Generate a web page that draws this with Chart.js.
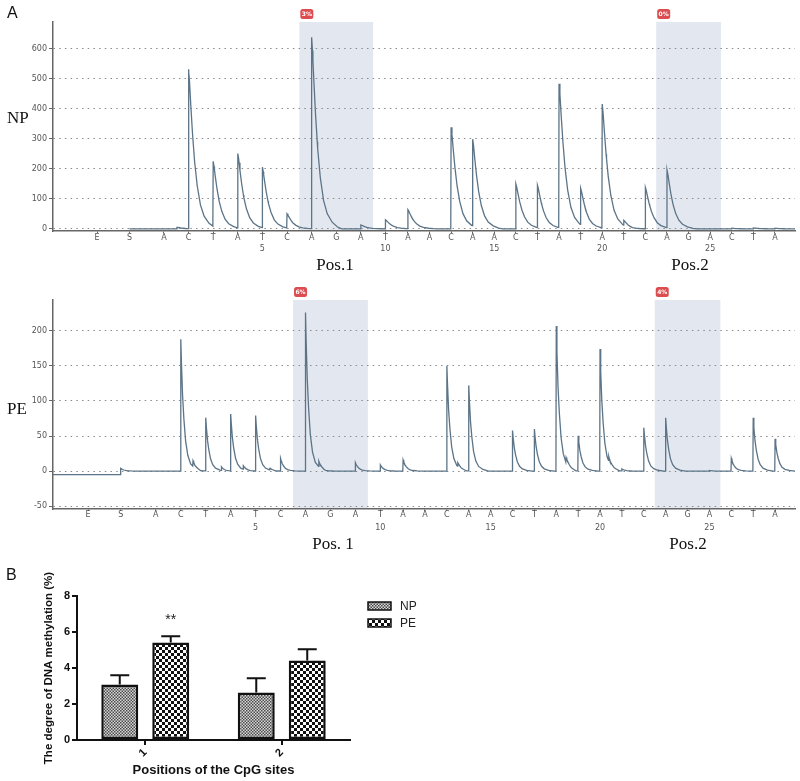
<!DOCTYPE html>
<html><head><meta charset="utf-8">
<script src="https://cdn.jsdelivr.net/npm/chart.js@4.4.1/dist/chart.umd.min.js"></script>
<style>
html,body{margin:0;padding:0;background:#fff;}
body{width:800px;height:781px;position:relative;overflow:hidden;font-family:"Liberation Sans",Arial,sans-serif;}
.box{position:absolute;}
.lbl{position:absolute;white-space:nowrap;line-height:1;color:#111;}
.panel{font-size:16px;}
.serif{font-family:"Liberation Serif","Times New Roman",serif;font-size:17px;}
.ctr{transform:translateX(-50%);}
</style></head><body>
<div class="box" style="left:0;top:0;width:800px;height:256px"><canvas id="cNP"></canvas></div>
<div class="box" style="left:0;top:280px;width:800px;height:256px"><canvas id="cPE"></canvas></div>
<div class="box" style="left:0;top:560px;width:480px;height:221px"><canvas id="cBar"></canvas></div>

<div class="lbl panel" style="left:7px;top:5px;">A</div>
<div class="lbl panel" style="left:6px;top:567px;">B</div>
<div class="lbl serif" style="left:7px;top:109px;">NP</div>
<div class="lbl serif" style="left:7px;top:400px;">PE</div>
<div class="lbl serif ctr" style="left:335px;top:256px;">Pos.1</div>
<div class="lbl serif ctr" style="left:690px;top:256px;">Pos.2</div>
<div class="lbl serif ctr" style="left:333px;top:535px;">Pos. 1</div>
<div class="lbl serif ctr" style="left:688px;top:535px;">Pos.2</div>

<script>
// ---------- Pyrogram data ----------
const DISP_LABELS  = ['E','S','A','C','T','A','T','C','A','G','A','T','A','A','C','A','A','C','T','A','T','A','T','C','A','G','A','C','T','A'];
const DISP_NUMBERS = ['','','','','','','5','','','','','10','','','','','15','','','','','20','','','','','25','','',''];
const DISP_TIME    = [1.6,3.1,4.7,5.84,6.98,8.12,9.26,10.4,11.54,12.68,13.82,14.96,16,17,18,19,20,21,22,23,24,25,26,27,28,29,30,31,32,33];

const NP_Y_TICKS = [0,100,200,300,400,500,600];
const PE_Y_TICKS = [-50,0,50,100,150,200];

const NP_PEAKS = [0,0,0,532,217,248,202,47,638,0,13,30,63,0,339,289,0,150,141,480,121,413,16,138,193,0,0,2,3,2];
const PE_PEAKS = [0,4,0,188,76,81,79,18,226,0,12,9,16,0,150,122,0,58,60,207,50,174,3,62,76,0,1,18,76,46];
const NP_MINOR = [[5.3,5]];
const PE_MINOR = [[6.4,8],[7.7,5],[8.7,5],[9.9,3],[12.15,8],[18.5,5],[23.45,8],[25.4,7]];
const PE_PRE_BASELINE = -5;

// peak shape: [time after dispensation, fraction of peak height]
const NP_SHAPE = [[-0.015,0],[0,1],[0.04,0.93],[0.1,0.78],[0.18,0.6],[0.28,0.42],[0.4,0.27],[0.55,0.15],[0.72,0.08],[0.95,0.035],[1.2,0.01],[1.4,0]];
const PE_SHAPE = [[-0.015,0],[0,1],[0.03,0.82],[0.08,0.58],[0.14,0.4],[0.22,0.23],[0.32,0.12],[0.45,0.055],[0.65,0.02],[0.9,0]];

const SHADE_SITES = [[8,10],[24,26]];   // dispensation indexes covered by CpG Pos.1 / Pos.2
const NP_BADGES = ['3%','0%'];
const PE_BADGES = ['6%','4%'];

// ---------- Bar data ----------
const CPG_POSITIONS = ['1','2'];
const NP_METH = [3.08, 2.64];
const NP_SEM  = [0.52, 0.79];
const PE_METH = [5.42, 4.41];
const PE_SEM  = [0.35, 0.63];
const PE_SIG  = ['**',''];

function shapeAt(shape, dt){
  if (dt <= shape[0][0] || dt >= shape[shape.length-1][0]) return 0;
  for (let i=1;i<shape.length;i++){
    if (dt <= shape[i][0]){
      const [a,fa]=shape[i-1],[b,fb]=shape[i];
      return fa + (fb-fa)*(dt-a)/(b-a);
    }
  }
  return 0;
}
function buildTrace(peaks, minor, shape, tStart, tEnd, preBase){
  const all = DISP_TIME.map((t,i)=>[t,peaks[i]]).filter(p=>p[1]!==0).concat(minor);
  const ts = new Set([tStart,tEnd]);
  all.forEach(([tp])=>shape.forEach(([dt])=>{const t=+(tp+dt).toFixed(4); if(t>tStart&&t<tEnd) ts.add(t);}));
  const tS = DISP_TIME[1];
  if (preBase !== 0){ ts.add(+(tS-0.016).toFixed(4)); }
  const sorted=[...ts].sort((a,b)=>a-b);
  return sorted.map(t=>{
    let y = (t < tS-0.015) ? preBase : 0;
    all.forEach(([tp,h])=>{ y += h*shapeAt(shape,t-tp); });
    return {x:t,y:y};
  });
}

const shadePlugin = {
  id:'shade',
  beforeDraw(chart, args, o){
    const {ctx, chartArea:ca, scales:{x}} = chart;
    ctx.save();
    o.sites.forEach((r,k)=>{
      const x0 = x.getPixelForValue((DISP_TIME[r[0]-1]+DISP_TIME[r[0]])/2);
      const x1 = x.getPixelForValue((DISP_TIME[r[1]]+DISP_TIME[r[1]+1])/2);
      ctx.fillStyle='#e3e8f0';
      ctx.fillRect(x0, ca.top, x1-x0, ca.bottom-ca.top);
      ctx.fillStyle='#dc4d4f';
      ctx.beginPath();
      if (ctx.roundRect) ctx.roundRect(x0+1, ca.top-13, 13, 10, 2.5); else ctx.rect(x0+1, ca.top-13, 13, 10);
      ctx.fill();
      ctx.fillStyle='#fff';
      ctx.font='bold 6px "DejaVu Sans"';
      ctx.textAlign='center'; ctx.textBaseline='middle';
      ctx.fillText(o.badges[k], x0+7.5, ca.top-7.8);
    });
    ctx.restore();
  }
};

function traceChart(id, peaks, minor, shape, preBase, yTicks, cfg){
  const pts = buildTrace(peaks, minor, shape, cfg.tStart, cfg.xmax, preBase);
  return new Chart(document.getElementById(id), {
    type:'line',
    data:{datasets:[{data:pts, borderColor:'#5c7487', borderWidth:1.3, pointRadius:0, tension:0, fill:false}]},
    options:{
      responsive:true, maintainAspectRatio:false, animation:false,
      layout:{padding:{top:cfg.padTop, right:5, left:0, bottom:0}},
      plugins:{legend:{display:false}, tooltip:{enabled:false}, shade:{sites:SHADE_SITES, badges:cfg.badges}},
      scales:{
        x:{type:'linear', min:cfg.xmin, max:cfg.xmax,
          afterBuildTicks:s=>{ s.ticks = DISP_TIME.map(v=>({value:v})); },
          afterFit:s=>{ s.height = cfg.xh; },
          grid:{drawOnChartArea:false, drawTicks:true, tickLength:2, color:'#666'},
          border:{display:true, color:'#666', width:1.5},
          ticks:{autoSkip:false, maxRotation:0, minRotation:0, padding:cfg.xpad, color:'#555',
            font:{family:'"DejaVu Sans"', size:8, lineHeight:cfg.lh},
            callback:(v,i)=>[DISP_LABELS[i], DISP_NUMBERS[i]]}
        },
        y:{min:cfg.ymin, max:cfg.ymax,
          afterBuildTicks:s=>{ s.ticks = yTicks.map(v=>({value:v})); },
          afterFit:s=>{ s.width = 53; },
          ticks:{color:'#555', padding:2, font:{family:'"DejaVu Sans"', size:8}},
          grid:{color:'#8a8a8a', lineWidth:1, drawTicks:true, tickLength:4, tickColor:'#666', tickWidth:1},
          border:{display:true, color:'#666', width:1.5, dash:[1.5,4.2]}
        }
      }
    },
    plugins:[shadePlugin]
  });
}

traceChart('cNP', NP_PEAKS, NP_MINOR, NP_SHAPE, 0, NP_Y_TICKS,
  {tStart:DISP_TIME[1], xmin:-0.44, xmax:33.93, ymin:-7, ymax:690, padTop:22, xh:25, xpad:-1, lh:1.45, badges:NP_BADGES});
traceChart('cPE', PE_PEAKS, PE_MINOR, PE_SHAPE, PE_PRE_BASELINE, PE_Y_TICKS,
  {tStart:0, xmin:0, xmax:33.91, ymin:-54, ymax:244, padTop:20, xh:27, xpad:-2, lh:1.55, badges:PE_BADGES});

// ---------- Bar chart ----------
function makePattern(ctx, cell, c1, c2){
  const cv=document.createElement('canvas'); cv.width=cv.height=cell*2;
  const g=cv.getContext('2d');
  g.fillStyle=c2; g.fillRect(0,0,cell*2,cell*2);
  g.fillStyle=c1; g.fillRect(0,0,cell,cell); g.fillRect(cell,cell,cell,cell);
  return ctx.createPattern(cv,'repeat');
}
const barCanvas=document.getElementById('cBar');
const bctx=barCanvas.getContext('2d');
const patNP=makePattern(bctx,1.5,'#4a4a4a','#d8d8d8');
const patPE=makePattern(bctx,3,'#111','#fff');

const errorPlugin={
  id:'errbars',
  afterDatasetsDraw(chart){
    const {ctx, scales:{y}} = chart;
    const errs=[NP_SEM, PE_SEM];
    ctx.save();
    ctx.strokeStyle='#111'; ctx.lineWidth=2;
    chart.data.datasets.forEach((ds,i)=>{
      chart.getDatasetMeta(i).data.forEach((bar,j)=>{
        const v=ds.data[j];
        const y0=y.getPixelForValue(v), y1=y.getPixelForValue(v+errs[i][j]);
        ctx.beginPath(); ctx.moveTo(bar.x,y0); ctx.lineTo(bar.x,y1);
        ctx.moveTo(bar.x-9.5,y1); ctx.lineTo(bar.x+9.5,y1); ctx.stroke();
        if (i===1 && PE_SIG[j]){
          ctx.fillStyle='#222'; ctx.font='14px "Liberation Sans", Arial';
          ctx.textAlign='center'; ctx.textBaseline='middle';
          ctx.fillText(PE_SIG[j], bar.x, y1-16);
        }
      });
    });
    ctx.restore();
  },
  afterDraw(chart){
    const {ctx, chartArea:ca}=chart;
    ctx.save();
    chart.data.datasets.forEach((ds,i)=>{
      const x=ca.right+18, yy=ca.top+6+i*17;
      ctx.fillStyle=ds.backgroundColor; ctx.fillRect(x,yy,23,8);
      ctx.strokeStyle='#111'; ctx.lineWidth=1.5; ctx.strokeRect(x,yy,23,8);
      ctx.fillStyle='#222'; ctx.font='12px "Liberation Sans", Arial';
      ctx.textAlign='left'; ctx.textBaseline='middle';
      ctx.fillText(ds.label, x+32, yy+4.5);
    });
    ctx.restore();
  }
};

new Chart(barCanvas,{
  type:'bar',
  data:{labels:CPG_POSITIONS, datasets:[
    {label:'NP', data:NP_METH, backgroundColor:patNP, borderColor:'#111', borderWidth:2.5, borderSkipped:false, categoryPercentage:0.747, barPercentage:0.725},
    {label:'PE', data:PE_METH, backgroundColor:patPE, borderColor:'#111', borderWidth:2.5, borderSkipped:false, categoryPercentage:0.747, barPercentage:0.725}
  ]},
  options:{
    responsive:true, maintainAspectRatio:false, animation:false,
    layout:{padding:{top:36, right:130, left:38, bottom:0}},
    plugins:{legend:{display:false}, tooltip:{enabled:false}},
    scales:{
      x:{afterFit:s=>{ s.height=41; },
        grid:{display:true, drawOnChartArea:false, drawTicks:true, tickLength:5, offset:false, color:'#111', lineWidth:2},
        border:{display:true, color:'#111', width:2},
        ticks:{minRotation:45, maxRotation:45, padding:1, color:'#111', font:{family:'"Liberation Sans", Arial', size:11, weight:'bold'}},
        title:{display:true, text:'Positions of the CpG sites', color:'#111', font:{family:'"Liberation Sans", Arial', size:13, weight:'bold'}, padding:{top:0,bottom:3}}
      },
      y:{min:0, max:8, afterFit:s=>{ s.width=39; },
        grid:{display:true, drawOnChartArea:false, drawTicks:true, tickLength:5, color:'#111', lineWidth:2},
        border:{display:true, color:'#111', width:2},
        ticks:{stepSize:2, padding:2, color:'#111', font:{family:'"Liberation Sans", Arial', size:11, weight:'bold'}},
        title:{display:true, text:'The degree of DNA methylation (%)', color:'#111', font:{family:'"Liberation Sans", Arial', size:11.5, weight:'bold'}, padding:{top:4,bottom:2}}
      }
    }
  },
  plugins:[errorPlugin]
});
</script>
</body></html>
